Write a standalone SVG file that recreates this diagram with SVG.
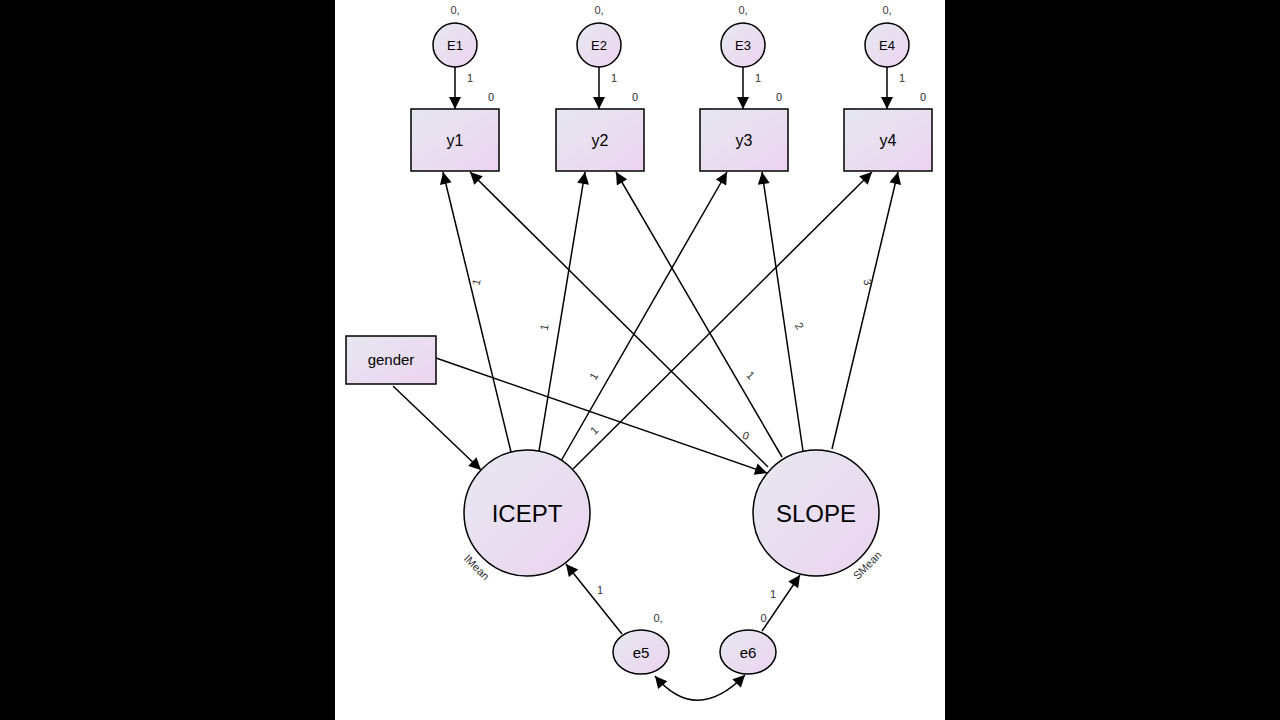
<svg xmlns="http://www.w3.org/2000/svg" width="1280" height="720" viewBox="0 0 1280 720">
<defs>
<linearGradient id="g" x1="0" y1="0" x2="1" y2="1"><stop offset="0" stop-color="#e6e8f0"/><stop offset="1" stop-color="#ecd4f0"/></linearGradient>
<marker id="a" viewBox="0 0 10 10" refX="10" refY="5" markerWidth="7" markerHeight="7" markerUnits="userSpaceOnUse" orient="auto"><path d="M0,0 L10,5 L0,10 z" fill="#000"/></marker>
<marker id="b" viewBox="0 0 10 10" refX="10" refY="5" markerWidth="16" markerHeight="12" markerUnits="userSpaceOnUse" orient="auto-start-reverse"><path d="M0,0 L10,5 L0,10 z" fill="#000"/></marker>
<style>
.n{fill:url(#g);stroke:#000;stroke-width:1.5}
.t{font-family:"Liberation Sans",Arial,sans-serif;fill:#000;text-anchor:middle}
.s{font-family:"Liberation Sans",Arial,sans-serif;fill:#333;font-size:11px;text-anchor:middle}
.c line,.c path{stroke:#000;stroke-width:1.5;fill:none;marker-end:url(#b)}
</style>
</defs>
<rect width="1280" height="720" fill="#000"/>
<rect x="335" y="0" width="610" height="720" fill="#fff"/>
<g class="c" id="connectors">
<line x1="455" y1="67" x2="455" y2="109"/>
<line x1="599" y1="67" x2="599" y2="109"/>
<line x1="743" y1="67" x2="743" y2="109"/>
<line x1="887" y1="67" x2="887" y2="109"/>
<line x1="511" y1="452" x2="443" y2="172"/>
<line x1="539" y1="451" x2="585" y2="172"/>
<line x1="561" y1="461" x2="727" y2="172"/>
<line x1="573" y1="469" x2="872" y2="172"/>
<line x1="768" y1="467" x2="470" y2="172"/>
<line x1="782" y1="457" x2="616" y2="172"/>
<line x1="803" y1="451" x2="762" y2="172"/>
<line x1="832" y1="449" x2="898" y2="172"/>
<line x1="393" y1="386" x2="481" y2="470"/>
<line x1="436" y1="358" x2="767" y2="473"/>
<line x1="622" y1="634" x2="566" y2="564"/>
<line x1="762" y1="631" x2="800" y2="575"/>
<path d="M655,676 Q696,725 745,675" style="marker-start:url(#b)"/>
</g>
<g class="s">
<text x="470" y="82">1</text><text x="614" y="82">1</text><text x="758" y="82">1</text><text x="902" y="82">1</text>
<text transform="translate(480,283) rotate(-76)">1</text>
<text transform="translate(548,328) rotate(-80)">1</text>
<text transform="translate(597,378) rotate(-60)">1</text>
<text transform="translate(597,433) rotate(-45)">1</text>
<text transform="translate(748,378) rotate(-135) rotate(180)">1</text>
<text transform="translate(796,328) rotate(-120) rotate(180)">2</text>
<text transform="translate(864,283) rotate(-103) rotate(180)">3</text>
<text transform="translate(747,432) rotate(19) rotate(180)">0</text>
<text x="600" y="594">1</text><text x="773" y="598">1</text>
<text x="658" y="622">0,</text><text x="765" y="622">0,</text>
<text transform="translate(474,570) rotate(45)">IMean</text>
<text transform="translate(870,568) rotate(-45)">SMean</text>
</g>
<g id="E1"><circle class="n" cx="455" cy="45" r="22"/><text class="t" x="455" y="50" font-size="13">E1</text><text class="s" x="455" y="14">0,</text></g>
<g id="E2"><circle class="n" cx="599" cy="45" r="22"/><text class="t" x="599" y="50" font-size="13">E2</text><text class="s" x="599" y="14">0,</text></g>
<g id="E3"><circle class="n" cx="743" cy="45" r="22"/><text class="t" x="743" y="50" font-size="13">E3</text><text class="s" x="743" y="14">0,</text></g>
<g id="E4"><circle class="n" cx="887" cy="45" r="22"/><text class="t" x="887" y="50" font-size="13">E4</text><text class="s" x="887" y="14">0,</text></g>
<g id="y1"><rect class="n" x="411" y="109" width="88" height="62"/><text class="t" x="455" y="146" font-size="16">y1</text><text class="s" x="491" y="101">0</text></g>
<g id="y2"><rect class="n" x="556" y="109" width="88" height="62"/><text class="t" x="600" y="146" font-size="16">y2</text><text class="s" x="635" y="101">0</text></g>
<g id="y3"><rect class="n" x="700" y="109" width="88" height="62"/><text class="t" x="744" y="146" font-size="16">y3</text><text class="s" x="779" y="101">0</text></g>
<g id="y4"><rect class="n" x="844" y="109" width="88" height="62"/><text class="t" x="888" y="146" font-size="16">y4</text><text class="s" x="923" y="101">0</text></g>
<g id="gender"><rect class="n" x="346" y="336" width="90" height="48"/><text class="t" x="391" y="365" font-size="15">gender</text></g>
<g id="ICEPT"><circle class="n" cx="527" cy="513" r="63"/><text class="t" x="527" y="522" font-size="24">ICEPT</text></g>
<g id="SLOPE"><circle class="n" cx="816" cy="513" r="63"/><text class="t" x="816" y="522" font-size="24">SLOPE</text></g>
<g id="e5"><ellipse class="n" cx="641" cy="652" rx="28" ry="22"/><text class="t" x="641" y="658" font-size="15">e5</text></g>
<g id="e6"><ellipse class="n" cx="748" cy="652" rx="28" ry="22"/><text class="t" x="748" y="658" font-size="15">e6</text></g>
</svg>
